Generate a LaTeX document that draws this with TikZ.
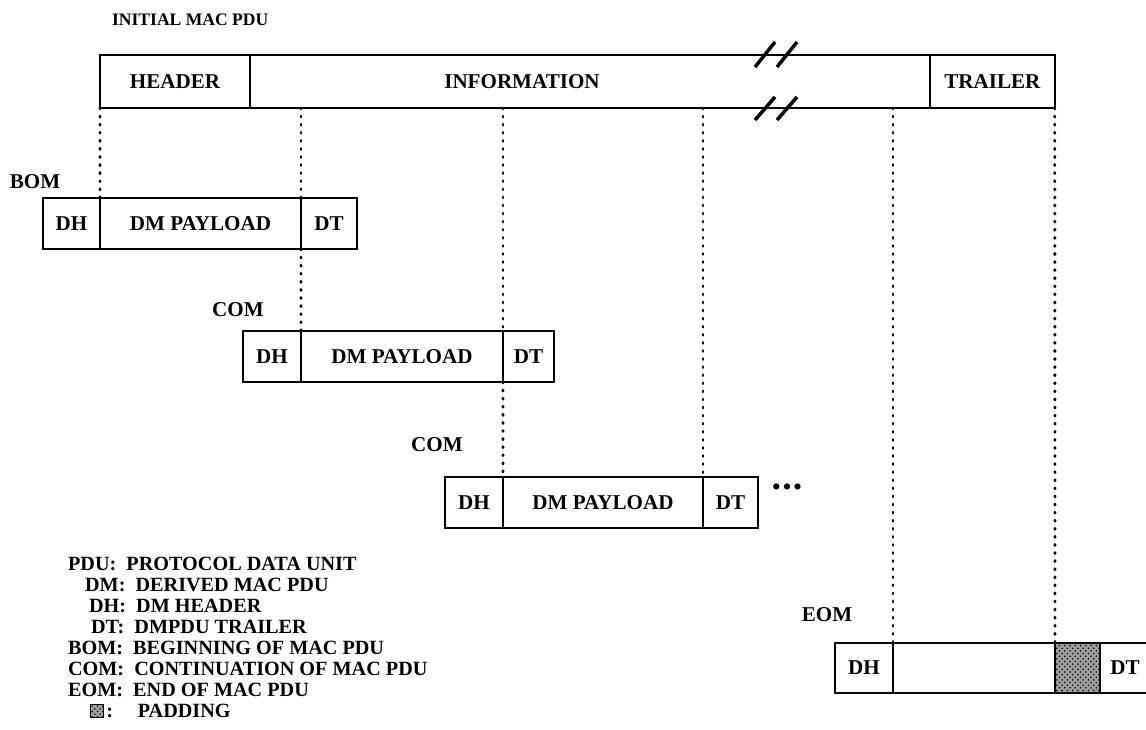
\documentclass[tikz,border=0pt]{standalone}
\usepackage{fontspec}
\setmainfont{Liberation Serif}
\usetikzlibrary{positioning,patterns}
\tikzset{
  cell/.style={draw, line width=1.4pt, outer sep=0pt, inner sep=0pt, anchor=north west, minimum height=1.02cm, font=\fontsize{12}{14.4}\selectfont\bfseries},
  topcell/.style={cell, minimum height=1.06cm},
  tag/.style={font=\fontsize{12}{14.4}\selectfont\bfseries, inner sep=1pt},
  key/.style={tag, anchor=west, font=\fontsize{11.5}{13}\selectfont\bfseries},
  guide/.style={line width=1.6pt, dash pattern=on 0.6pt off 4pt, line cap=round},
  brk/.style={line width=2pt},
  padfill/.style={fill=gray!75, postaction={pattern=crosshatch dots, pattern color=black}}
}
\begin{document}
\begin{tikzpicture}[x=0.02cm,y=-0.02cm]
\useasboundingbox (0,0) rectangle (1146,730);
\clip (0,0) rectangle (1146,730);
% initial MAC PDU
\node[key, font=\fontsize{10}{12}\selectfont\bfseries] (title) at (110,20) {INITIAL MAC PDU};
\node[topcell, minimum width=3.0cm] (hdr) at (100,55) {HEADER};
\node[topcell, minimum width=13.6cm] (info) at (hdr.north east) {};
\node[topcell, minimum width=2.5cm] (trl) at (info.north east) {TRAILER};
\node[tag] (infotxt) at (522,82) {INFORMATION};
\foreach \bx in {755,777} {
  \draw[brk] (\bx,67) -- ++(20,-25);
  \draw[brk] (\bx,120) -- ++(20,-23);
}
% BOM
\node[tag] (bomtag) at (35,182) {BOM};
\node[cell, minimum width=1.14cm] (bomdh) at (43,198) {DH};
\node[cell, minimum width=4.02cm] (bompay) at (bomdh.north east) {DM PAYLOAD};
\node[cell, minimum width=1.12cm] (bomdt) at (bompay.north east) {DT};
% first COM
\node[tag] (comatag) at (238,310) {COM};
\node[cell, minimum width=1.16cm] (comadh) at (243,331) {DH};
\node[cell, minimum width=4.04cm] (comapay) at (comadh.north east) {DM PAYLOAD};
\node[cell, minimum width=1.02cm] (comadt) at (comapay.north east) {DT};
% second COM
\node[tag] (combtag) at (437,445) {COM};
\node[cell, minimum width=1.16cm] (combdh) at (445,477) {DH};
\node[cell, minimum width=4.0cm] (combpay) at (combdh.north east) {DM PAYLOAD};
\node[cell, minimum width=1.1cm] (combdt) at (combpay.north east) {DT};
\node[font=\fontsize{13}{13}\selectfont\bfseries] (more) at (787,489) {\textbullet\hspace{1.5pt}\textbullet\hspace{1.5pt}\textbullet};
% EOM
\node[tag] (eomtag) at (827,615) {EOM};
\node[cell, minimum width=1.16cm, minimum height=1.0cm] (eomdh) at (835,643) {DH};
\node[cell, minimum width=3.24cm, minimum height=1.0cm] (eompay) at (eomdh.north east) {};
\node[cell, padfill, minimum width=0.9cm, minimum height=1.0cm] (eompad) at (eompay.north east) {};
\node[cell, minimum width=1.0cm, minimum height=1.0cm] (eomdt) at (eompad.north east) {DT};
% guides
\draw[guide] (hdr.south west) -- (bompay.north west);
\draw[guide] (bompay.north east |- info.south) -- (bompay.north east);
\draw[guide] (bompay.south east) -- (comapay.north west);
\draw[guide] (comapay.north east |- info.south) -- (comapay.north east);
\draw[guide] (comapay.south east) -- (combpay.north west);
\draw[guide] (combpay.north east |- info.south) -- (combpay.north east);
\draw[guide] (eompay.north west |- info.south) -- (eompay.north west);
\draw[guide] (trl.south east) -- (eompad.north west);
% legend
\node[key] (kpdu) at (66,564) {PDU:\ \ PROTOCOL DATA UNIT};
\node[key] (kdm) at (83,585) {DM:\ \ DERIVED MAC PDU};
\node[key] (kdh) at (87,606) {DH:\ \ DM HEADER};
\node[key] (kdt) at (89,627) {DT:\ \ DMPDU TRAILER};
\node[key] (kbom) at (66,648) {BOM:\ \ BEGINNING OF MAC PDU};
\node[key] (kcom) at (66,669) {COM:\ \ CONTINUATION OF MAC PDU};
\node[key] (keom) at (66,690) {EOM:\ \ END OF MAC PDU};
\node[draw, line width=1pt, padfill, minimum size=0.26cm, inner sep=0pt] (kpadbox) at (97,711) {};
\node[key] (kpad) at (kpadbox.east) {:\hspace{14pt}PADDING};
\end{tikzpicture}
\end{document}
